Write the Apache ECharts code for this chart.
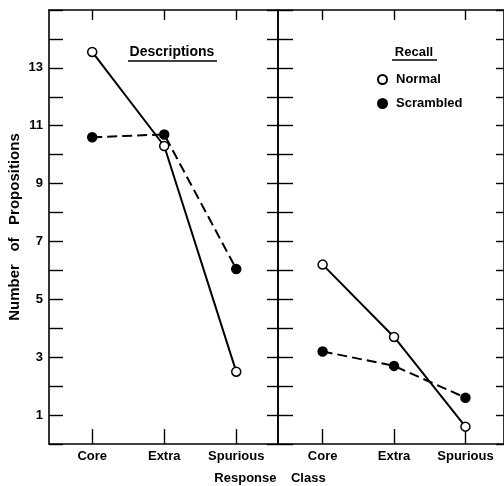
<!DOCTYPE html>
<html>
<head>
<meta charset="utf-8">
<script src="https://cdn.jsdelivr.net/npm/echarts@6/dist/echarts.min.js"></script>
<style>
  html, body { margin: 0; padding: 0; background: #fff; }
  #chart { width: 504px; height: 486px; }
</style>
</head>
<body>
<div id="chart"></div>
<script>
const categories = ['Core', 'Extra', 'Spurious'];
const descNormal = [13.55, 10.3, 2.5];
const descScrambled = [10.6, 10.7, 6.05];
const recallNormal = [6.2, 3.7, 0.6];
const recallScrambled = [3.2, 2.7, 1.6];
const yTickLabels = [1, 3, 5, 7, 9, 11, 13];

const FONT = 'Liberation Sans, Arial, sans-serif';
const catPos = categories.map((_, i) => i + 1);
const toPts = vals => vals.map((v, i) => [catPos[i], v]);

const axisLine = { show: true, onZero: false, lineStyle: { color: '#000', width: 1.6 } };
function xAx(grid, pos, min, max, tickLen, withLabels){
  return {
    type: 'value', gridIndex: grid, position: pos, min, max,
    axisLine,
    splitLine: { show: false },
    axisTick: { show: true, inside: true, length: tickLen, customValues: catPos, lineStyle: { color: '#000', width: 1.4 } },
    axisLabel: withLabels ? {
      show: true, customValues: catPos, margin: 6,
      formatter: v => categories[Math.round(v) - 1] || '',
      color: '#000', fontFamily: FONT, fontWeight: 'bold', fontSize: 13
    } : { show: false }
  };
}
function yAx(grid, pos, tickLen, extra){
  return Object.assign({
    type: 'value', gridIndex: grid, position: pos, min: 0, max: 15, interval: 1,
    axisLine,
    splitLine: { show: false },
    axisTick: { show: true, inside: true, length: tickLen, lineStyle: { color: '#000', width: 1.4 } },
    axisLabel: { show: false }
  }, extra || {});
}

const chart = echarts.init(document.getElementById('chart'));

function lineSeries(name, data, xi, yi, filled, dashed){
  return {
    name, type: 'line', xAxisIndex: xi, yAxisIndex: yi,
    data: toPts(data),
    symbol: 'circle', symbolSize: 9,
    lineStyle: { color: '#000', width: 2, type: dashed ? [10, 5] : 'solid' },
    itemStyle: { color: filled ? '#000' : '#fff', borderColor: '#000', borderWidth: 1.5, opacity: 1 },
    emphasis: { disabled: true },
    z: filled ? 3 : 4
  };
}

chart.setOption({
  animation: false,
  backgroundColor: '#fff',
  grid: [
    { left: 49, top: 10, width: 229, height: 434 },
    { left: 278, top: 10, width: 228, height: 434 }
  ],
  xAxis: [
    xAx(0, 'bottom', 0.4, 3.58, 15, true),
    xAx(0, 'top', 0.4, 3.58, 10, false),
    xAx(1, 'bottom', 0.375, 3.54, 15, true),
    xAx(1, 'top', 0.375, 3.54, 10, false)
  ],
  yAxis: [
    yAx(0, 'left', 14, {
      name: 'Number   of   Propositions', nameLocation: 'middle', nameGap: 27,
      nameTextStyle: { color: '#000', fontFamily: FONT, fontWeight: 'bold', fontSize: 15 },
      axisLabel: { show: true, customValues: yTickLabels, margin: 6, color: '#000', fontFamily: FONT, fontWeight: 'bold', fontSize: 13 }
    }),
    yAx(0, 'right', 11),
    yAx(1, 'left', 15),
    yAx(1, 'right', 8)
  ],
  legend: {
    orient: 'vertical', left: 372, top: 68, itemGap: 11,
    icon: 'circle', itemWidth: 9, itemHeight: 9,
    selectedMode: false,
    data: ['Normal', 'Scrambled'],
    textStyle: { color: '#000', fontFamily: FONT, fontWeight: 'bold', fontSize: 13, padding: [0, 0, 0, 4] }
  },
  graphic: [
    { type: 'text', style: { text: 'Descriptions', x: 172, y: 52, align: 'center', verticalAlign: 'middle', fill: '#000', font: 'bold 14px ' + FONT } },
    { type: 'line', shape: { x1: 128, y1: 61, x2: 217, y2: 61 }, style: { stroke: '#000', lineWidth: 1.5 } },
    { type: 'text', style: { text: 'Recall', x: 414, y: 52, align: 'center', verticalAlign: 'middle', fill: '#000', font: 'bold 13px ' + FONT } },
    { type: 'line', shape: { x1: 392, y1: 60, x2: 437, y2: 60 }, style: { stroke: '#000', lineWidth: 1.5 } },
    { type: 'text', style: { text: 'Response    Class', x: 270, y: 478, align: 'center', verticalAlign: 'middle', fill: '#000', font: 'bold 13px ' + FONT } }
  ],
  series: [
    lineSeries('Normal', descNormal, 0, 0, false, false),
    lineSeries('Scrambled', descScrambled, 0, 0, true, true),
    lineSeries('Normal', recallNormal, 2, 2, false, false),
    lineSeries('Scrambled', recallScrambled, 2, 2, true, true)
  ]
});
</script>
</body>
</html>
